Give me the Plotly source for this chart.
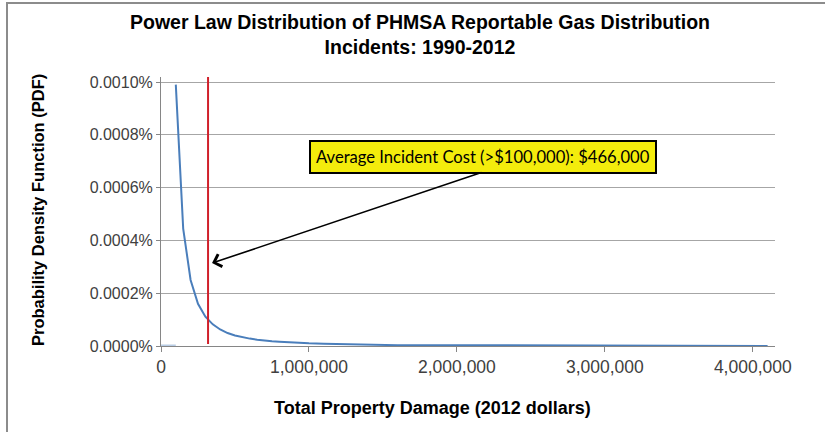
import plotly.graph_objects as go

# Données
damage_x = [100000, 150000, 200000, 250000, 300000, 350000, 400000, 450000,
            500000, 550000, 600000, 650000, 700000, 750000, 800000, 900000,
            1000000, 1100000, 1200000, 1300000, 1400000, 1500000, 1600000,
            2000000, 2500000, 3000000, 3500000, 3750000, 3800000, 4100000]
pdf_y = [0.99e-5, 0.445e-5, 0.25e-5, 0.16e-5, 0.111e-5, 0.082e-5, 0.0625e-5,
         0.049e-5, 0.04e-5, 0.033e-5, 0.028e-5, 0.024e-5, 0.02e-5, 0.018e-5,
         0.016e-5, 0.012e-5, 0.01e-5, 0.0085e-5, 0.0075e-5, 0.0065e-5,
         0.006e-5, 0.0055e-5, 0.003e-5, 0.003e-5, 0.0025e-5, 0.002e-5,
         0.002e-5, 0.0018e-5, 0.0005e-5, 0.0003e-5]

below_min_x = [0, 100000]
below_min_y = [0, 0]

avg_line_x = [318000, 318000]
avg_line_y = [0.008e-5, 1.02e-5]

x_ticks = [0, 1000000, 2000000, 3000000, 4000000]
y_ticks = [0, 0.2e-5, 0.4e-5, 0.6e-5, 0.8e-5, 1.0e-5]

label_pos = (2176000, 0.716e-5)
arrow_head = (345000, 0.314e-5)
arrow_tail = (2176000, 0.659e-5)

FONT = "Liberation Sans, Arial, sans-serif"
C_AXIS = "#868686"
C_GRID = "#a6a6a6"


def px_x(p):
    """pixel horizontal -> coordonnée paper"""
    return (p - 161) / 614


def px_y(p):
    """pixel vertical -> coordonnée paper"""
    return (346 - p) / 269


fig = go.Figure()
fig.add_scatter(x=below_min_x, y=below_min_y, mode="lines",
                line=dict(color="#b9cde5", width=3), showlegend=False)
fig.add_scatter(x=damage_x, y=pdf_y, mode="lines",
                line=dict(color="#4a7ebb", width=2), showlegend=False)
fig.add_scatter(x=avg_line_x, y=avg_line_y, mode="lines",
                line=dict(color="#d0202a", width=2), showlegend=False)

fig.update_layout(
    width=825, height=432,
    margin=dict(l=161, r=50, t=77, b=86),
    plot_bgcolor="white", paper_bgcolor="white",
    font=dict(family=FONT, size=16, color="#404040"),
)
fig.update_xaxes(
    range=[0, 4150000], tickvals=x_ticks, tickformat=",",
    tickfont=dict(size=17.5),
    showgrid=False, zeroline=False, layer="below traces",
    showline=True, linecolor=C_AXIS, linewidth=1,
    ticks="outside", ticklen=5, tickcolor=C_AXIS,
)
fig.update_yaxes(
    range=[0, 1.019e-5], tickvals=y_ticks, tickformat=".4%",
    showgrid=True, gridcolor=C_GRID, gridwidth=1, zeroline=False,
    showline=True, linecolor=C_AXIS, linewidth=1,
    ticks="outside", ticklen=4, tickcolor=C_AXIS,
)

# titre
fig.add_annotation(
    text="<b>Power Law Distribution of PHMSA Reportable Gas Distribution"
         "<br>Incidents: 1990-2012</b>",
    xref="paper", yref="paper", x=px_x(420), y=px_y(34),
    xanchor="center", yanchor="middle",
    showarrow=False, font=dict(family=FONT, size=19.5, color="#000000"),
)

# titres d'axes
fig.add_annotation(
    text="<b>Total Property Damage (2012 dollars)</b>",
    xref="paper", yref="paper", x=px_x(432), y=px_y(408),
    xanchor="center", yanchor="middle",
    showarrow=False, font=dict(family=FONT, size=18, color="#000000"),
)
fig.add_annotation(
    text="<b>Probability Density Function (PDF)</b>",
    xref="paper", yref="paper", x=px_x(38), y=px_y(210),
    xanchor="center", yanchor="middle",
    textangle=-90, showarrow=False,
    font=dict(family=FONT, size=16.5, color="#000000"),
)

# étiquette jaune + flèche
fig.add_annotation(
    text="Average Incident Cost (>$100,000): $466,000",
    x=label_pos[0], y=label_pos[1], showarrow=False,
    font=dict(family="Lato, sans-serif", size=16.6, color="#000000"),
    bgcolor="#f4ec0c", bordercolor="#000000", borderwidth=2, borderpad=5,
)
fig.add_annotation(
    text="", x=arrow_head[0], y=arrow_head[1],
    ax=arrow_tail[0], ay=arrow_tail[1], axref="x", ayref="y",
    showarrow=True, arrowhead=4, arrowsize=1.6, arrowwidth=1.6,
    arrowcolor="#000000",
)

# cadre extérieur
fig.add_shape(type="rect", xref="paper", yref="paper",
              x0=px_x(7), x1=px_x(840), y0=px_y(450), y1=px_y(3),
              line=dict(color="#8c8c8c", width=2), layer="below")

fig.write_html("out.html", config={"displayModeBar": False},
               post_script="document.body.style.margin='0';")
